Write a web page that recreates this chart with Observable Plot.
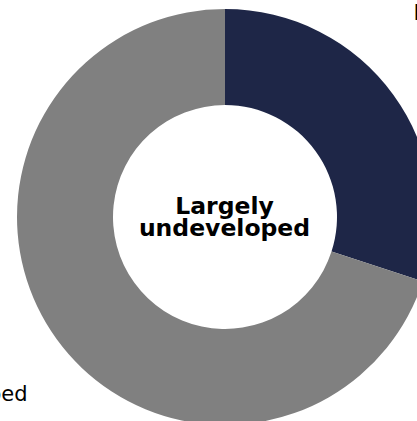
<!DOCTYPE html>
<html><head><meta charset="utf-8">
<script src="https://cdn.jsdelivr.net/npm/d3@7"></script>
<script src="https://cdn.jsdelivr.net/npm/@observablehq/plot@0.6"></script>
<style>html,body{margin:0;padding:0;background:#fff;overflow:hidden}#chart svg{overflow:visible;display:block}</style>
</head><body><div id="chart"></div>
<script>
// ---- data ----
const categories = ["Largely developed", "Largely undeveloped"];
const shares = [30, 70];
const colors = ["#1e2647", "#808080"];
const centerLabel = "Largely\nundeveloped";

// ---- layout ----
const W = 417, H = 421, CX = 225, CY = 217, RO = 208, RI = 112;
const labelSpots = [{x: 188, y: -204, anchor: "start"}, {x: -198, y: 177, anchor: "end"}];

const data = categories.map((c, i) => ({category: c, value: shares[i], color: colors[i]}));
const arcs = d3.pie().value(d => d.value).sort(null)(data);
const labels = arcs.map((a, i) => ({text: a.data.category, x: labelSpots[i].x, y: labelSpots[i].y, anchor: labelSpots[i].anchor}));

function donut(index, scales) {
  const cx = scales.x(0), cy = scales.y(0);
  const arcGen = d3.arc().innerRadius(RI).outerRadius(RO);
  const g = d3.create("svg:g").attr("transform", `translate(${cx},${cy})`);
  g.selectAll("path").data(arcs).join("path")
    .attr("d", arcGen)
    .attr("fill", d => d.data.color);
  return g.node();
}

const chart = Plot.plot({
  width: W, height: H, margin: 0,
  style: {fontFamily: "'DejaVu Sans', Verdana, sans-serif", background: "#fff", overflow: "visible"},
  x: {domain: [-CX, W - CX], range: [0, W], axis: null},
  y: {domain: [-CY, H - CY], range: [0, H], axis: null},
  marks: [
    donut,
    Plot.text([centerLabel], {x: () => -1, y: () => 0, text: d => d, fontSize: 23.5, lineHeight: 0.94, fontWeight: "bold", fill: "#000", lineAnchor: "middle", textAnchor: "middle"}),
    Plot.text(labels.filter(d => d.anchor === "start"), {x: "x", y: "y", text: "text", fontSize: 21, fill: "#000", textAnchor: "start", lineAnchor: "middle"}),
    Plot.text(labels.filter(d => d.anchor === "end"), {x: "x", y: "y", text: "text", fontSize: 21, fill: "#000", textAnchor: "end", lineAnchor: "middle"})
  ]
});
document.getElementById("chart").appendChild(chart);
</script></body></html>
